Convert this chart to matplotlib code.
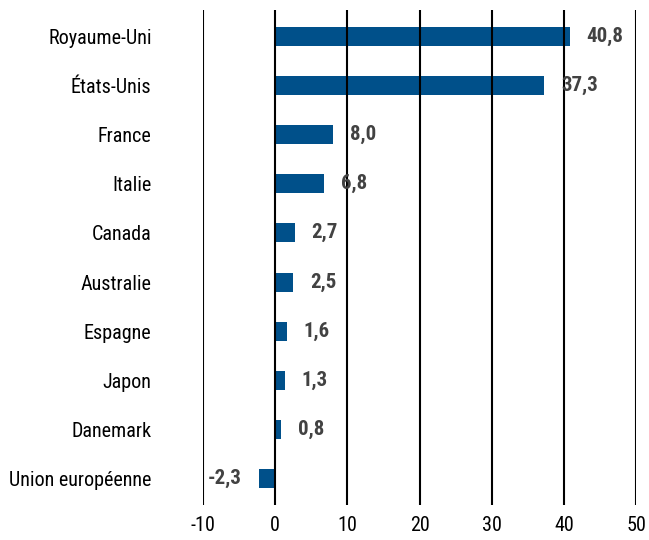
import matplotlib.pyplot as plt
from matplotlib import font_manager

countries = ['Royaume-Uni', 'États-Unis', 'France', 'Italie', 'Canada',
             'Australie', 'Espagne', 'Japon', 'Danemark', 'Union européenne']
values = [40.8, 37.3, 8.0, 6.8, 2.7, 2.5, 1.6, 1.3, 0.8, -2.3]
xticks = [-10, 0, 10, 20, 30, 40, 50]

# pick a narrow font if one is around, else plain Liberation Sans
fonts = font_manager.fontManager.ttflist
names = {f.name for f in fonts}
stretch = 'normal'
fam = 'Liberation Sans'
size, vsize = 12, 13
for cand in ['Liberation Sans Narrow', 'Roboto Condensed', 'Open Sans Condensed']:
    if cand in names:
        fam, size, vsize = cand, 14.5, 15
        break
else:
    if any(f.name == 'DejaVu Sans' and f.stretch == 'condensed' for f in fonts):
        fam, stretch, size, vsize = 'DejaVu Sans', 'condensed', 12, 13
plt.rcParams['font.family'] = [fam, 'DejaVu Sans']
plt.rcParams['font.stretch'] = stretch


def fmt(v):
    return ('%.1f' % v).replace('.', ',')


def main():
    fig = plt.figure(figsize=(6.49, 5.4), dpi=100)
    ax = fig.add_axes([0.3128, 0.0648, 0.6672, 0.9167])

    y = list(range(len(countries)))
    ax.barh(y, values, height=0.385, color='#00508a', zorder=1)

    for yi, v in zip(y, values):
        off = 12 if v >= 0 else -12
        ax.annotate(fmt(v), (v, yi), xytext=(off, 0), textcoords='offset points',
                    ha='left' if v >= 0 else 'right', va='center',
                    fontsize=vsize, fontweight='bold', color='#424242', zorder=3)

    ax.set_xlim(-10, 50)
    ax.set_ylim(len(countries) - 0.47, -0.53)
    ax.set_xticks(xticks)
    ax.set_xticklabels([str(t) for t in xticks])
    ax.set_yticks(y)
    ax.set_yticklabels(countries)
    ax.tick_params(length=0, labelsize=size, colors='black')
    ax.tick_params(axis='y', pad=37)
    ax.tick_params(axis='x', pad=8)

    for t in xticks:
        ax.axvline(t, color='black', lw=1.5, zorder=2)
    for s in ax.spines.values():
        s.set_visible(False)

    fig.savefig('out.png', dpi=100)


if __name__ == "__main__":
    main()
